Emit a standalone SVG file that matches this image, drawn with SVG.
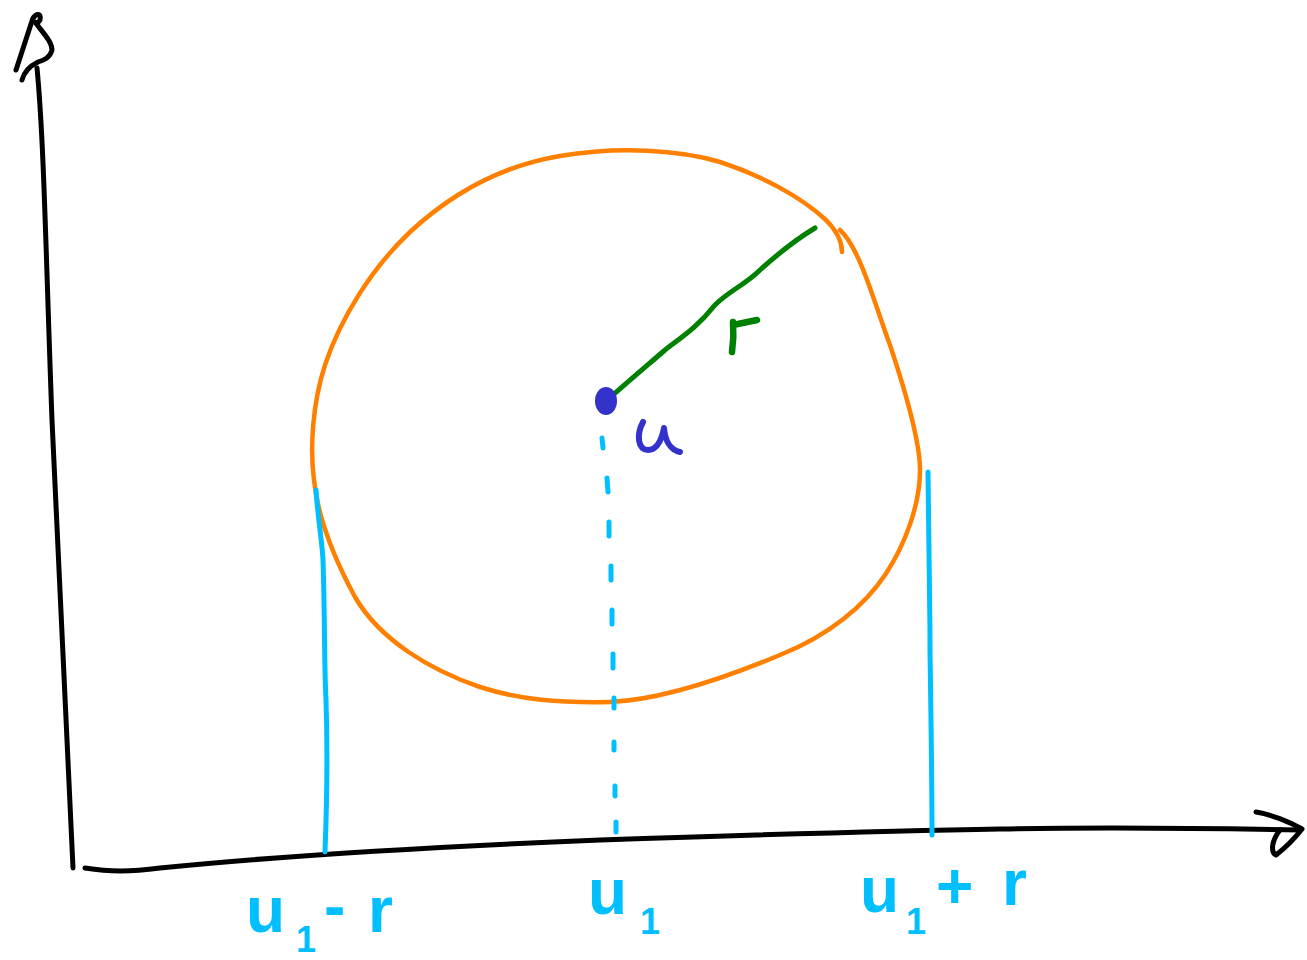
<svg xmlns="http://www.w3.org/2000/svg" width="1307" height="960" viewBox="0 0 1307 960">
<style>
.ink{fill:none;stroke-linecap:round;stroke-linejoin:round}
.ax{stroke:#000;stroke-width:5}
.or{stroke:#FF8000;stroke-width:4.5}
.cy{stroke:#00BFFF;stroke-width:5}
.gr{stroke:#008000;stroke-width:5}
.lbl{font-family:"Liberation Sans",Arial,sans-serif;font-weight:bold;fill:#00BFFF}
</style>
<rect width="1307" height="960" fill="#fff"/>
<g id="axes">
<path class="ink ax" d="M73,868 C66,700 58,560 52,420 C46,260 44,140 37,68"/>
<path class="ink ax" d="M16,70 L31,24 C34,12 42,12 40,20 C38,24 35,22 35,22 C44,34 52,42 52,50 C50,58 44,60 38,62 C30,66 24,72 22,80"/>
<path class="ink ax" d="M85,868 C110,872 130,872 160,868 C300,854 450,846 600,840 C750,835 880,831 1000,829 C1100,827 1200,828 1300,830"/>
<path class="ink ax" d="M1256,812 C1270,814 1290,822 1302,829 C1295,838 1285,848 1276,855 C1270,852 1272,840 1280,830"/>
</g>
<g id="circle">
<path class="ink or" d="M842,252 C842,240 836,230 826,220 C800,196 760,175 720,162 C680,150 620,146 560,156 C500,166 450,195 410,232 C370,270 340,320 325,365 C312,405 310,450 314,480 C318,520 335,560 355,597 C380,640 430,670 480,687 C520,700 560,703 610,702 C660,700 720,680 780,655 C830,635 865,605 885,575 C905,545 920,505 920,470 C920,440 905,390 890,345 C875,305 860,248 840,230"/>
</g>
<g id="radius">
<path class="ink gr" d="M613,395 C630,380 650,363 665,350 C680,338 695,330 715,305 C730,290 745,285 760,270 C780,252 795,240 815,228"/>
<path class="ink gr" d="M733,322 C734,335 733,345 732,352 M733,325 L757,320" style="stroke-width:6.5"/>
</g>
<g id="center">
<ellipse cx="606" cy="401" rx="11" ry="14" fill="#3333CC"/>
<path class="ink" style="stroke:#3333CC;stroke-width:6" d="M643,422 C636,435 638,450 648,450 C658,450 662,438 664,428 C665,440 670,450 680,452"/>
</g>
<g id="projections">
<path class="ink cy" d="M316,490 C318,520 322,540 323,560 C325,620 324,660 326,700 C328,760 327,800 325,852"/>
<path class="ink cy" d="M928,472 C929,560 930,600 930,650 C931,720 932,780 932,835"/>
<path class="ink cy" d="M602,438 L603,448 M607,478 L608,492 M609,522 L609,536 M611,566 L611,580 M612,610 L612,624 M613,654 L613,668 M614,698 L614,708 M614,742 L614,750 M615,786 L615,796 M616,822 L616,832"/>
</g>
<g id="labels">
<text class="lbl" font-size="64"><tspan x="246" y="932">u</tspan><tspan x="296" y="952" font-size="36">1</tspan><tspan x="324" y="928">-</tspan><tspan x="368" y="932">r</tspan></text>
<text class="lbl" font-size="64"><tspan x="588" y="914">u</tspan><tspan x="640" y="934" font-size="36">1</tspan></text>
<text class="lbl" font-size="64"><tspan x="860" y="912">u</tspan><tspan x="906" y="934" font-size="36">1</tspan><tspan x="936" y="908">+</tspan><tspan x="1002" y="905">r</tspan></text>
</g>
</svg>
